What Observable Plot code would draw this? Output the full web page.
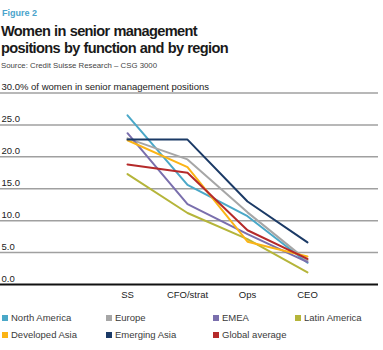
<!DOCTYPE html>
<html>
<head>
<meta charset="utf-8">
<script src="https://cdn.jsdelivr.net/npm/d3@7"></script>
<script src="https://cdn.jsdelivr.net/npm/@observablehq/plot@0.6"></script>
<style>
  body { margin: 0; background: #fff; font-family: "Liberation Sans", Arial, sans-serif; }
  #wrap { position: relative; width: 383px; height: 350px; overflow: hidden; }
  #fig { position: absolute; left: 2px; top: 8px; font-size: 9px; font-weight: bold; color: #4aa3cc; }
  #title { position: absolute; left: 1px; top: 23px; font-size: 14.6px; font-weight: bold; color: #1a1a1a; line-height: 17px; letter-spacing: -0.65px; word-spacing: 0.5px; }
  #source { position: absolute; left: 1px; top: 61px; font-size: 7.8px; color: #444; }
  #chart { position: absolute; left: 0; top: 76px; }
  #legend { position: absolute; left: 0; top: 312px; width: 383px; font-size: 9.5px; color: #3a3a3a; }
  .item { position: absolute; display: flex; align-items: center; white-space: nowrap; }
  .sw { width: 6px; height: 6px; margin-right: 3px; }
</style>
</head>
<body>
<div id="wrap">
  <div id="fig">Figure 2</div>
  <div id="title">Women in senior management<br>positions by function and by region</div>
  <div id="source">Source: Credit Suisse Research – CSG 3000</div>
  <div id="chart"></div>
  <div id="legend"></div>
</div>
<script>
const functions = ["SS", "CFO/strat", "Ops", "CEO"];
const regions = ["North America", "Europe", "EMEA", "Latin America", "Developed Asia", "Emerging Asia", "Global average"];
const colors = ["#4aa8c8", "#a6a6a6", "#7a6fad", "#b5b53a", "#fbb416", "#1b3a66", "#b52a2a"];
const northAmerica = [26.5, 15.6, 10.7, 3.4];
const europe = [22.9, 19.6, 11.3, 3.7];
const emea = [23.7, 12.6, 7.9, 3.5];
const latinAmerica = [17.3, 11.2, 7.1, 1.9];
const developedAsia = [22.6, 18.4, 6.7, 4.4];
const emergingAsia = [22.7, 22.7, 13.0, 6.6];
const globalAverage = [18.8, 17.5, 8.5, 4.0];
const yTicks = [0, 5, 10, 15, 20, 25, 30];
const yTickLabels = ["0.0", "5.0", "10.0", "15.0", "20.0", "25.0", "30.0% of women in senior management positions"];

const series = [northAmerica, europe, emea, latinAmerica, developedAsia, emergingAsia, globalAverage];
const data = [];
series.forEach((vals, i) => vals.forEach((v, j) => data.push({region: regions[i], fn: functions[j], value: v})));
const tickData = yTicks.map((t, i) => ({t, label: yTickLabels[i]}));

const chart = Plot.plot({
  width: 383,
  height: 232,
  marginLeft: 0,
  marginRight: 5,
  marginTop: 16,
  marginBottom: 24,
  style: {fontFamily: "Liberation Sans, Arial, sans-serif", background: "transparent"},
  x: {type: "point", domain: functions, range: [97, 337], axis: null},
  y: {domain: [0, 30], range: [208, 16.5], axis: null},
  color: {domain: regions, range: colors},
  marks: [
    Plot.ruleY(yTicks.filter(t => t > 0), {stroke: "#a0a0a0", strokeWidth: 1.5}),
    Plot.ruleY([0], {stroke: "#111", strokeWidth: 2}),
    Plot.text(tickData, {y: "t", text: "label", frameAnchor: "left", textAnchor: "start", dy: -6, dx: 1, fontSize: 9.5, fill: "#222"}),
    Plot.line(data, {x: "fn", y: "value", z: "region", stroke: "region", strokeWidth: 2}),
    Plot.text(functions, {x: d => d, frameAnchor: "bottom", dy: 13, fontSize: 9.5, fill: "#222"})
  ]
});
document.getElementById("chart").appendChild(chart);

const legendPos = [[2, 0], [106, 0], [213, 0], [295, 0], [2, 17], [106, 17], [213, 17]];
const legend = document.getElementById("legend");
regions.forEach((r, k) => {
  const it = document.createElement("div");
  it.className = "item";
  it.style.left = legendPos[k][0] + "px";
  it.style.top = legendPos[k][1] + "px";
  it.innerHTML = `<span class="sw" style="background:${colors[k]}"></span><span>${r}</span>`;
  legend.appendChild(it);
});
</script>
</body>
</html>
